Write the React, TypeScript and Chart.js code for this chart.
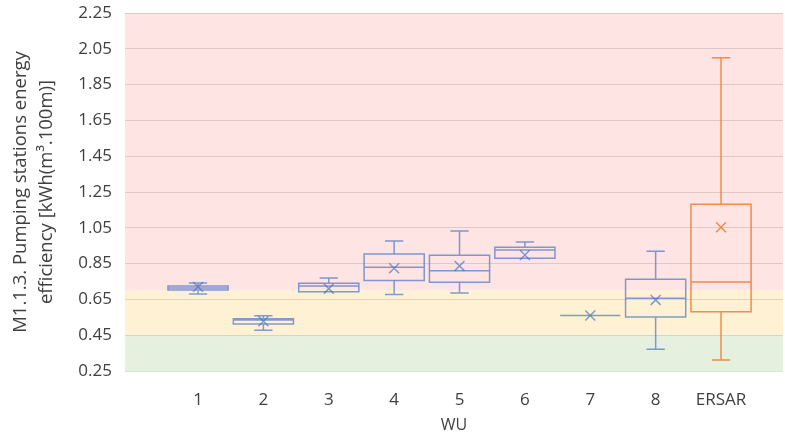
import React, { useEffect, useRef } from 'react';
import { Chart, registerables } from 'chart.js';

Chart.register(...registerables);

// ---- data ----
const categories = ['1', '2', '3', '4', '5', '6', '7', '8', 'ERSAR'];
const whiskerLow = [0.68, 0.477, 0.693, 0.678, 0.686, 0.88, 0.56, 0.371, 0.311];
const quartile1 = [0.703, 0.513, 0.693, 0.755, 0.746, 0.88, 0.56, 0.552, 0.581];
const medians = [0.714, 0.535, 0.725, 0.83, 0.81, 0.926, 0.56, 0.656, 0.747];
const quartile3 = [0.725, 0.542, 0.74, 0.904, 0.896, 0.941, 0.56, 0.762, 1.181];
const whiskerHigh = [0.742, 0.559, 0.77, 0.976, 1.032, 0.97, 0.56, 0.919, 2.0];
const means = [0.72, 0.528, 0.71, 0.824, 0.837, 0.898, 0.56, 0.647, 1.053];
const yTicks = [0.25, 0.45, 0.65, 0.85, 1.05, 1.25, 1.45, 1.65, 1.85, 2.05, 2.25];
const bandEdges = [0.25, 0.45, 0.7, 2.25];

// ---- styles ----
const BLUE = 'rgba(68,114,196,0.68)';
const ORANGE = 'rgba(237,125,49,0.85)';
const seriesColors = [BLUE, BLUE, BLUE, BLUE, BLUE, BLUE, BLUE, BLUE, ORANGE];
const bandColors = ['rgb(230,240,222)', 'rgb(255,242,212)', 'rgb(255,228,228)'];
const BOX_HALF = 0.46;
const CAP_HALF = 0.14;
const FONT = "'Open Sans', sans-serif";
const TEXT = '#404040';

const bandPlugin = {
  id: 'bands',
  beforeDraw(chart: any) {
    const { ctx, chartArea, scales } = chart;
    const y = scales.y;
    if (!y) return;
    ctx.save();
    for (let b = 0; b < bandColors.length; b++) {
      const yTop = y.getPixelForValue(bandEdges[b + 1]);
      const yBot = y.getPixelForValue(bandEdges[b]);
      ctx.fillStyle = bandColors[b];
      ctx.fillRect(chartArea.left, yTop, chartArea.right - chartArea.left, yBot - yTop);
    }
    ctx.restore();
  },
};

const boxPlugin = {
  id: 'boxes',
  afterDatasetsDraw(chart: any) {
    const { ctx, chartArea, scales } = chart;
    const x = scales.x;
    const y = scales.y;
    ctx.save();
    ctx.beginPath();
    ctx.rect(chartArea.left, chartArea.top, chartArea.right - chartArea.left, chartArea.bottom - chartArea.top);
    ctx.clip();
    categories.forEach((_, i) => {
      const cx = x.getPixelForValue(i);
      const bl = x.getPixelForValue(i - BOX_HALF);
      const br = x.getPixelForValue(i + BOX_HALF);
      const cl = x.getPixelForValue(i - CAP_HALF);
      const cr = x.getPixelForValue(i + CAP_HALF);
      const yLo = y.getPixelForValue(whiskerLow[i]);
      const yQ1 = y.getPixelForValue(quartile1[i]);
      const yMed = y.getPixelForValue(medians[i]);
      const yQ3 = y.getPixelForValue(quartile3[i]);
      const yHi = y.getPixelForValue(whiskerHigh[i]);
      ctx.strokeStyle = seriesColors[i];
      ctx.lineWidth = 1.5;
      ctx.beginPath();
      ctx.moveTo(cx, yHi); ctx.lineTo(cx, yQ3);
      ctx.moveTo(cx, yQ1); ctx.lineTo(cx, yLo);
      ctx.moveTo(cl, yHi); ctx.lineTo(cr, yHi);
      ctx.moveTo(cl, yLo); ctx.lineTo(cr, yLo);
      ctx.moveTo(bl, yMed); ctx.lineTo(br, yMed);
      ctx.rect(bl, yQ3, br - bl, yQ1 - yQ3);
      ctx.stroke();
    });
    ctx.restore();
  },
};

export default function App() {
  const ref = useRef<HTMLCanvasElement | null>(null);
  useEffect(() => {
    document.body.style.margin = '0';
    const canvas = ref.current;
    if (!canvas) return;
    const chart = new Chart(canvas, {
      type: 'scatter',
      data: {
        datasets: [
          {
            label: 'Mean',
            data: means.map((m, i) => ({ x: i, y: m })),
            pointStyle: 'crossRot',
            pointRadius: 7,
            pointHoverRadius: 7,
            pointBorderWidth: 1.5,
            pointBorderColor: seriesColors,
            pointBackgroundColor: 'rgba(0,0,0,0)',
            showLine: false,
          } as any,
        ],
      },
      plugins: [bandPlugin, boxPlugin],
      options: {
        responsive: false,
        animation: false,
        devicePixelRatio: 1,
        layout: { autoPadding: false, padding: { top: 13, right: 2, left: 0, bottom: 0 } },
        plugins: { legend: { display: false }, tooltip: { enabled: false } },
        scales: {
          x: {
            type: 'linear',
            min: -1.117,
            max: 8.948,
            grid: { display: false },
            border: { display: false },
            afterBuildTicks: (s: any) => {
              s.ticks = categories.map((_, i) => ({ value: i }));
            },
            afterFit: (s: any) => {
              s.height = 67;
              s.paddingLeft = 0;
              s.paddingRight = 0;
            },
            ticks: {
              autoSkip: false,
              maxRotation: 0,
              padding: 11,
              color: TEXT,
              font: { family: FONT, size: 17 },
              callback: (v: any) => categories[v] ?? '',
            },
            title: {
              display: true,
              text: 'WU',
              color: TEXT,
              font: { family: FONT, size: 16 },
              padding: { top: 0, bottom: 3 },
            },
          },
          y: {
            type: 'linear',
            min: 0.25,
            max: 2.25,
            afterBuildTicks: (s: any) => {
              s.ticks = yTicks.map((v) => ({ value: v }));
            },
            afterFit: (s: any) => {
              s.width = 125;
              s.paddingTop = 0;
              s.paddingBottom = 0;
            },
            grid: { color: 'rgba(0,0,0,0.12)', drawTicks: false, lineWidth: 1 },
            border: { display: false },
            ticks: {
              padding: 13,
              color: TEXT,
              font: { family: FONT, size: 17 },
              callback: (v: any) => Number(v).toFixed(2),
            },
            title: {
              display: true,
              text: ['M1.1.3. Pumping stations energy', 'efficiency [kWh(m³.100m)]'],
              color: TEXT,
              font: { family: FONT, size: 18.5, lineHeight: 1.4 },
              padding: { top: 8, bottom: 0 },
            },
          },
        },
      },
    });
    return () => chart.destroy();
  }, []);
  return <canvas ref={ref} width={785} height={438} style={{ display: 'block' }} />;
}
